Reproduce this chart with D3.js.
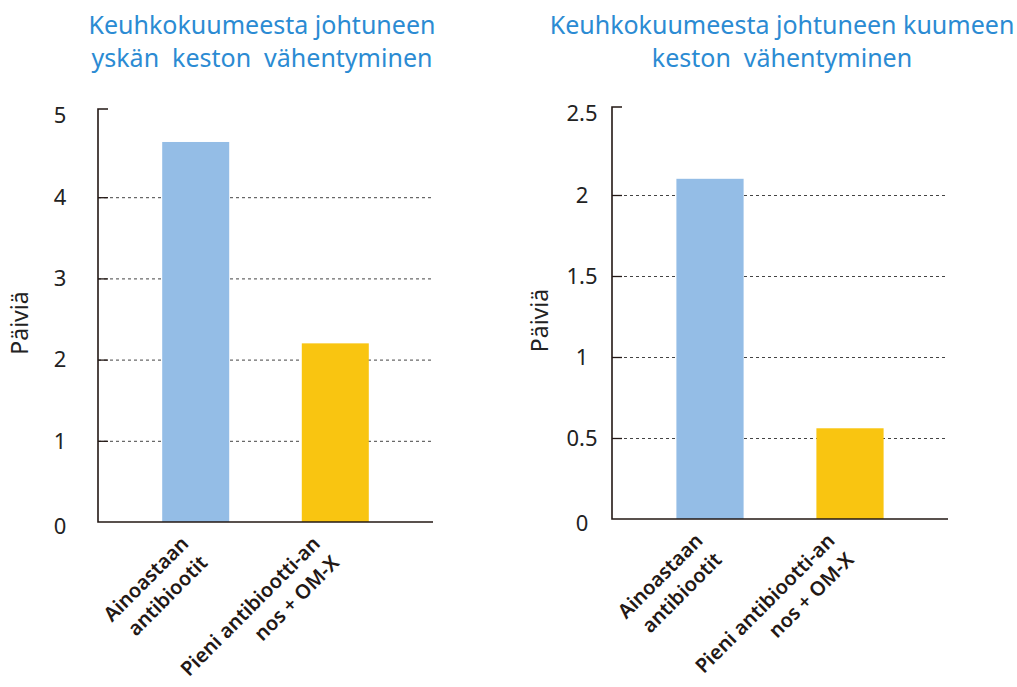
<!DOCTYPE html>
<html><head><meta charset="utf-8">
<script src="https://cdn.jsdelivr.net/npm/d3@7"></script>
<style>
html,body{margin:0;padding:0;background:#fff;}
svg{display:block;}
</style></head>
<body>
<svg id="chart" width="1017" height="687"></svg>
<script>
// ---- data ----
const categories = [["Ainoastaan", "antibiootit"], ["Pieni antibiootti-an", "nos + OM-X"]];
const coughValues = [4.68, 2.2];
const feverValues = [2.1, 0.56];
const coughTicks = [0, 1, 2, 3, 4, 5];
const feverTicks = [0, 0.5, 1, 1.5, 2, 2.5];
const coughTitle = ["Keuhkokuumeesta johtuneen", "yskän  keston  vähentyminen"];
const feverTitle = ["Keuhkokuumeesta johtuneen kuumeen", "keston  vähentyminen"];
const yLabel = "Päiviä";
const barColors = ["#94bde6", "#f9c511"];

const svg = d3.select("#chart");
const FONT = "'Noto Sans', 'DejaVu Sans', sans-serif";
const AX = "#231815";

function drawChart(cfg) {
  const g = svg.append("g");
  const y = d3.scaleLinear().domain([0, d3.max(cfg.ticks)]).range([cfg.bottom, cfg.top]);
  const x = d3.scaleBand().domain(d3.range(cfg.values.length))
    .range([cfg.left, cfg.right]).paddingInner(0.52).paddingOuter(0.46);

  const inner = cfg.ticks.filter((t, i) => i > 0 && i < cfg.ticks.length - 1);

  // gridlines
  g.selectAll("line.grid").data(inner)
    .join("line").attr("class", "grid")
    .attr("x1", cfg.left).attr("x2", cfg.right)
    .attr("y1", d => y(d) + 0.5).attr("y2", d => y(d) + 0.5)
    .attr("stroke", "#444").attr("stroke-width", 1).attr("stroke-dasharray", "3,3");

  // bars
  g.selectAll("rect.bar").data(cfg.values).join("rect").attr("class", "bar")
    .attr("x", (d, i) => x(i)).attr("width", x.bandwidth())
    .attr("y", d => y(d)).attr("height", d => y(0) - y(d))
    .attr("fill", (d, i) => barColors[i]);

  // axis lines with top cap
  const yTop = y(d3.max(cfg.ticks)) - 7;
  g.append("path")
    .attr("d", `M${cfg.left + 10},${yTop}H${cfg.left}V${y(0)}H${cfg.right}`)
    .attr("fill", "none").attr("stroke", AX).attr("stroke-width", 1.6);
  g.selectAll("line.tk").data(inner)
    .join("line").attr("class", "tk")
    .attr("x1", cfg.left).attr("x2", cfg.left + 10)
    .attr("y1", d => y(d) + 0.5).attr("y2", d => y(d) + 0.5)
    .attr("stroke", AX).attr("stroke-width", 1.3);

  // tick labels
  g.selectAll("text.tl").data(cfg.ticks).join("text").attr("class", "tl")
    .attr("x", cfg.labelX)
    .attr("y", (d, i) => i === cfg.ticks.length - 1 ? yTop + 6 : y(d) + (i === 0 ? 4 : 0))
    .attr("dy", "0.35em").attr("text-anchor", "middle")
    .attr("font-family", FONT).attr("font-size", 22).attr("fill", "#222")
    .text(d => String(d));

  // y label
  g.append("text")
    .attr("transform", `translate(${cfg.yLabelX},${(cfg.top + cfg.bottom) / 2 + 4}) rotate(-90)`)
    .attr("text-anchor", "middle").attr("dy", "0.35em")
    .attr("font-family", FONT).attr("font-size", 23).attr("fill", "#222")
    .text(yLabel);

  // title
  const t = g.append("text").attr("text-anchor", "middle")
    .attr("font-family", FONT).attr("font-size", 25).attr("fill", "#2b8bd3");
  cfg.title.forEach((line, i) => {
    t.append("tspan").attr("x", cfg.titleX).attr("y", 34 + i * 33)
      .attr("xml:space", "preserve").style("white-space", "pre").text(line);
  });

  // category labels
  categories.forEach((lines, i) => {
    const cx = x(i) + x.bandwidth() / 2;
    const txt = g.append("text")
      .attr("transform", `translate(${cx - 6 - 8 * i},${y(0) + 23}) rotate(-45)`)
      .attr("text-anchor", "end").attr("font-family", FONT)
      .attr("font-size", 20).attr("font-weight", 600).attr("fill", AX);
    lines.forEach((l, j) => {
      txt.append("tspan").attr("x", 0).attr("y", j * 27).text(l);
    });
  });
}

drawChart({ values: coughValues, ticks: coughTicks, title: coughTitle,
  left: 98, right: 433, top: 116, bottom: 522, labelX: 60, yLabelX: 20, titleX: 262 });
drawChart({ values: feverValues, ticks: feverTicks, title: feverTitle,
  left: 612, right: 948, top: 114, bottom: 519, labelX: 582, yLabelX: 540, titleX: 782 });
</script>
</body></html>
